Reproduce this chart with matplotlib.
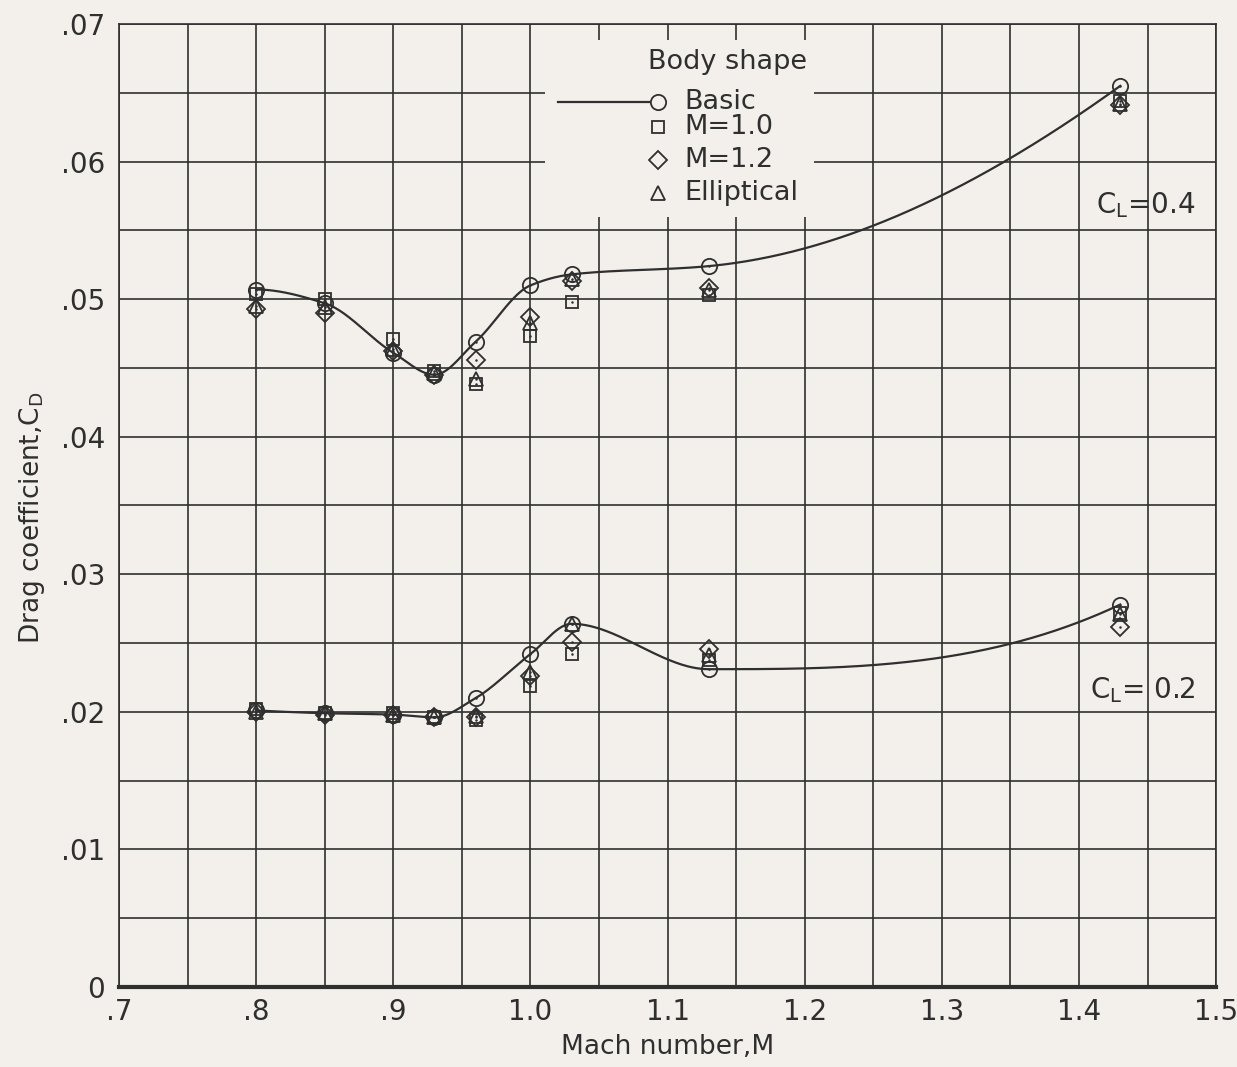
import numpy as np
import matplotlib
matplotlib.use('Agg')
import matplotlib.pyplot as plt
from matplotlib.patches import Rectangle
from matplotlib.lines import Line2D

# ---------------- data ----------------
mach = [0.80, 0.85, 0.90, 0.93, 0.96, 1.00, 1.03, 1.13, 1.43]

# C_L = 0.4
cd04_basic = [0.0507, 0.0497, 0.0461, 0.0445, 0.0469, 0.0510, 0.0518, 0.0524, 0.0655]
cd04_m10   = [0.0504, 0.0500, 0.0471, 0.0448, 0.0438, 0.0473, 0.0498, 0.0503, 0.0644]
cd04_m12   = [0.0493, 0.0490, 0.0462, 0.0445, 0.0456, 0.0487, 0.0513, 0.0508, 0.0641]
cd04_ell   = [0.0495, 0.0494, 0.0464, 0.0446, 0.0442, 0.0483, 0.0515, 0.0507, 0.0642]

# C_L = 0.2
cd02_basic = [0.0201, 0.0199, 0.0198, 0.0196, 0.0210, 0.0242, 0.0264, 0.0231, 0.0278]
cd02_m10   = [0.0202, 0.0199, 0.0199, 0.0196, 0.0194, 0.0219, 0.0242, 0.0238, 0.0272]
cd02_m12   = [0.0200, 0.0198, 0.0198, 0.0196, 0.0196, 0.0226, 0.0251, 0.0246, 0.0262]
cd02_ell   = [0.0200, 0.0199, 0.0198, 0.0196, 0.0197, 0.0229, 0.0264, 0.0241, 0.0271]

x_ticks = [0.7, 0.8, 0.9, 1.0, 1.1, 1.2, 1.3, 1.4, 1.5]
x_ticklabels = ['.7', '.8', '.9', '1.0', '1.1', '1.2', '1.3', '1.4', '1.5']
y_ticks = [0.0, 0.01, 0.02, 0.03, 0.04, 0.05, 0.06, 0.07]
y_ticklabels = ['0', '.01', '.02', '.03', '.04', '.05', '.06', '.07']

series_names = ['Basic', 'M=1.0', 'M=1.2', 'Elliptical']
series_markers = ['o', 's', 'D', '^']


def pchip(x, y, xs):
    x = np.asarray(x, float)
    y = np.asarray(y, float)
    h = np.diff(x)
    d = np.diff(y) / h
    n = len(x)
    m = np.zeros(n)
    for k in range(1, n - 1):
        if d[k - 1] * d[k] > 0:
            w1 = 2 * h[k] + h[k - 1]
            w2 = h[k] + 2 * h[k - 1]
            m[k] = (w1 + w2) / (w1 / d[k - 1] + w2 / d[k])

    def end(h0, h1, d0, d1):
        s = ((2 * h0 + h1) * d0 - h0 * d1) / (h0 + h1)
        if np.sign(s) != np.sign(d0):
            s = 0.0
        elif np.sign(d0) != np.sign(d1) and abs(s) > abs(3 * d0):
            s = 3 * d0
        return s

    m[0] = end(h[0], h[1], d[0], d[1])
    m[-1] = end(h[-1], h[-2], d[-1], d[-2])
    idx = np.clip(np.searchsorted(x, xs) - 1, 0, n - 2)
    hh = h[idx]
    t = (xs - x[idx]) / hh
    h00 = 2 * t**3 - 3 * t**2 + 1
    h10 = t**3 - 2 * t**2 + t
    h01 = -2 * t**3 + 3 * t**2
    h11 = t**3 - t**2
    return h00 * y[idx] + h10 * hh * m[idx] + h01 * y[idx + 1] + h11 * hh * m[idx + 1]


# ---------------- style ----------------
BG = '#f3f0eb'
INK = '#2f2f2f'
plt.rcParams['font.family'] = ['DejaVu Sans']
plt.rcParams['mathtext.fontset'] = 'dejavusans'

fig = plt.figure(figsize=(12.37, 10.67), dpi=100, facecolor=BG)
ax = fig.add_axes([0.0962, 0.075, 0.887, 0.9025])
ax.set_facecolor(BG)

ax.set_xlim(0.7, 1.5)
ax.set_ylim(0.0, 0.07)
ax.set_xticks(x_ticks)
ax.set_xticklabels(x_ticklabels)
ax.set_yticks(y_ticks)
ax.set_yticklabels(y_ticklabels)
ax.set_xticks(np.arange(0.75, 1.5, 0.1), minor=True)
ax.set_yticks(np.arange(0.005, 0.07, 0.01), minor=True)
ax.tick_params(which='both', length=0)
ax.tick_params(axis='x', labelsize=20, pad=8, colors=INK)
ax.tick_params(axis='y', labelsize=20, pad=10, colors=INK)
ax.grid(which='both', color=INK, linewidth=1.2)
ax.set_axisbelow(True)
for s in ['left', 'right', 'top']:
    ax.spines[s].set_color(INK)
    ax.spines[s].set_linewidth(1.2)
ax.spines['bottom'].set_color(INK)
ax.spines['bottom'].set_linewidth(3.0)

# white-out area behind the legend
ax.add_patch(Rectangle((0.388, 0.80), 0.245, 0.183, transform=ax.transAxes,
                       facecolor=BG, edgecolor='none', zorder=1))

# faired curves through basic data
xs = np.linspace(mach[0], mach[-1], 600)
ax.plot(xs, pchip(mach, cd04_basic, xs), color=INK, lw=1.6, zorder=3)
ax.plot(xs, pchip(mach, cd02_basic, xs), color=INK, lw=1.6, zorder=3)

msizes = [11, 9, 9, 10]
for vals04, vals02, mk, ms in zip([cd04_basic, cd04_m10, cd04_m12, cd04_ell],
                                  [cd02_basic, cd02_m10, cd02_m12, cd02_ell],
                                  series_markers, msizes):
    for vals in (vals04, vals02):
        ax.plot(mach, vals, linestyle='none', marker=mk, markersize=ms,
                markerfacecolor='none', markeredgecolor=INK, markeredgewidth=1.3,
                zorder=4)
        ax.plot(mach, vals, linestyle='none', marker='o', markersize=1.8,
                markerfacecolor=INK, markeredgecolor='none', zorder=4)

# legend (manual)
tr = ax.transAxes
ax.text(0.482, 0.9605, 'Body shape', transform=tr, fontsize=19.5, color=INK,
        va='center', ha='left', zorder=5)
ax.add_line(Line2D([0.400, 0.485], [0.919, 0.919], transform=tr, color=INK,
                   lw=1.6, zorder=5))
leg_y = [0.919, 0.893, 0.859, 0.8245]
leg_ms = [11, 9, 9, 10]
for name, mk, yy, ms in zip(series_names, series_markers, leg_y, leg_ms):
    ax.add_line(Line2D([0.491], [yy], transform=tr, marker=mk, markersize=ms,
                       markerfacecolor=BG, markeredgecolor=INK,
                       markeredgewidth=1.3, linestyle='none', zorder=6))
    ax.text(0.515, yy, name, transform=tr, fontsize=19.5, color=INK,
            va='center', ha='left', zorder=5)

ax.text(0.89, 0.812, r'C$_\mathregular{L}$=0.4', transform=tr, fontsize=20,
        color=INK, va='center', ha='left')
ax.text(0.885, 0.308, r'C$_\mathregular{L}$= 0.2', transform=tr, fontsize=20,
        color=INK, va='center', ha='left')

ax.set_xlabel('Mach number,M', fontsize=19, color=INK, labelpad=6)
ax.set_ylabel(r'Drag coefficient,C$_\mathregular{D}$', fontsize=19, color=INK,
              labelpad=10)
ax.yaxis.set_label_coords(-0.066, 0.487)

fig.savefig('out.png', dpi=100, facecolor=BG)
